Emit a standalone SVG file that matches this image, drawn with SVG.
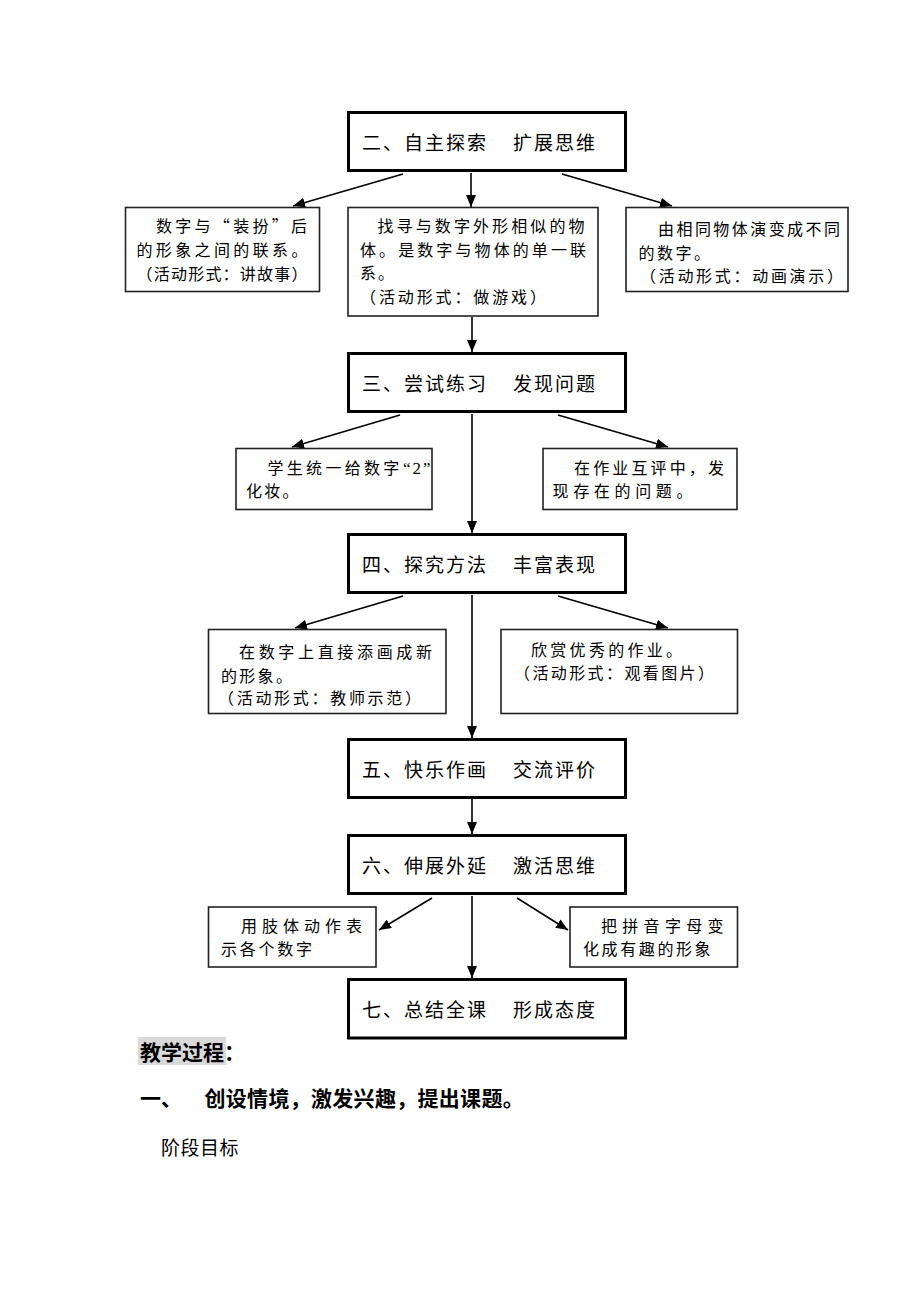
<svg xmlns="http://www.w3.org/2000/svg" width="920" height="1302" viewBox="0 0 920 1302">
<style>
text { font-family: "Noto Sans CJK SC", "Noto Sans CJK TC", sans-serif; fill: #000; }
.main rect { fill: #fff; stroke: #000; stroke-width: 3; }
.sub rect { fill: #fff; stroke: #222; stroke-width: 1.6; }
.h { font-size: 19px; letter-spacing: 2px; }
.s { font-size: 16px; }
.b { font-size: 21px; font-weight: bold; }
.conn line { stroke: #000; stroke-width: 1.6; marker-end: url(#arr); }
</style>
<defs>
<marker id="arr" markerUnits="userSpaceOnUse" markerWidth="12" markerHeight="10" viewBox="0 0 12 10" refX="12" refY="5" orient="auto">
<path d="M0,0 L12,5 L0,10 Z" fill="#000"/>
</marker>
</defs>
<rect width="920" height="1302" fill="#fff"/>

<g id="connectors" class="conn">
<line x1="471" y1="173" x2="471" y2="207"/>
<line x1="403" y1="174" x2="293" y2="206"/>
<line x1="562" y1="174" x2="672" y2="206"/>
<line x1="472" y1="317" x2="472" y2="352"/>
<line x1="400" y1="415" x2="292" y2="447"/>
<line x1="558" y1="415" x2="668" y2="447"/>
<line x1="472" y1="414" x2="472" y2="533"/>
<line x1="403" y1="596" x2="295" y2="628"/>
<line x1="558" y1="596" x2="668" y2="628"/>
<line x1="472" y1="595" x2="472" y2="738"/>
<line x1="472" y1="799" x2="472" y2="834"/>
<line x1="432" y1="898" x2="379" y2="930"/>
<line x1="517" y1="898" x2="568" y2="930"/>
<line x1="472" y1="896" x2="472" y2="978"/>
</g>

<g id="n2" class="main">
<rect x="348.5" y="112.5" width="277" height="58"/>
<text class="h" y="150"><tspan x="362">二、自主探索</tspan><tspan x="513">扩展思维</tspan></text>
</g>
<g id="n2a" class="sub">
<rect x="125.5" y="207.5" width="194" height="84"/>
<text class="s" x="156" y="232" textLength="151" lengthAdjust="spacing">数字与“装扮”后</text>
<text class="s" x="136.5" y="256" textLength="171" lengthAdjust="spacing">的形象之间的联系。</text>
<text class="s" x="136.5" y="280" textLength="171" lengthAdjust="spacing">（活动形式：讲故事）</text>
</g>
<g id="n2b" class="sub">
<rect x="348" y="207.5" width="250" height="108.5"/>
<text class="s" x="377.5" y="232" textLength="207" lengthAdjust="spacing">找寻与数字外形相似的物</text>
<text class="s" x="360" y="256" textLength="226" lengthAdjust="spacing">体。是数字与物体的单一联</text>
<text class="s" x="360" y="279" letter-spacing="2">系。</text>
<text class="s" x="360" y="303" textLength="186" lengthAdjust="spacing">（活动形式：做游戏）</text>
</g>
<g id="n2c" class="sub">
<rect x="626" y="207.5" width="222" height="84"/>
<text class="s" x="658" y="235" textLength="182" lengthAdjust="spacing">由相同物体演变成不同</text>
<text class="s" x="638.5" y="259" letter-spacing="2.5">的数字。</text>
<text class="s" x="640" y="282" textLength="203" lengthAdjust="spacing">（活动形式：动画演示）</text>
</g>

<g id="n3" class="main">
<rect x="348.5" y="353.5" width="277" height="58"/>
<text class="h" y="391"><tspan x="362">三、尝试练习</tspan><tspan x="513">发现问题</tspan></text>
</g>
<g id="n3a" class="sub">
<rect x="236" y="448.5" width="196" height="61"/>
<text class="s" x="267.5" y="474" letter-spacing="3.3">学生统一给数字<tspan x="403" font-family="Liberation Serif, serif" font-size="17" letter-spacing="2">“2”</tspan></text>
<text class="s" x="246" y="497" letter-spacing="2.3">化妆。</text>
</g>
<g id="n3b" class="sub">
<rect x="543" y="448.5" width="194" height="61"/>
<text class="s" x="574" y="474" textLength="150" lengthAdjust="spacing">在作业互评中，发</text>
<text class="s" x="552.5" y="497" textLength="140" lengthAdjust="spacing">现存在的问题。</text>
</g>

<g id="n4" class="main">
<rect x="348.5" y="534.5" width="277" height="58"/>
<text class="h" y="572"><tspan x="362">四、探究方法</tspan><tspan x="513">丰富表现</tspan></text>
</g>
<g id="n4a" class="sub">
<rect x="208.5" y="629.5" width="237.5" height="84"/>
<text class="s" x="239" y="658" textLength="193" lengthAdjust="spacing">在数字上直接添画成新</text>
<text class="s" x="221" y="682" letter-spacing="2.3">的形象。</text>
<text class="s" x="218" y="704" textLength="203" lengthAdjust="spacing">（活动形式：教师示范）</text>
</g>
<g id="n4b" class="sub">
<rect x="501" y="629.5" width="236.5" height="84"/>
<text class="s" x="531" y="656" letter-spacing="3.3">欣赏优秀的作业。</text>
<text class="s" x="514" y="679" textLength="200" lengthAdjust="spacing">（活动形式：观看图片）</text>
</g>

<g id="n5" class="main">
<rect x="348.5" y="739.5" width="277" height="58"/>
<text class="h" y="777"><tspan x="362">五、快乐作画</tspan><tspan x="513">交流评价</tspan></text>
</g>

<g id="n6" class="main">
<rect x="348.5" y="835.5" width="277" height="58"/>
<text class="h" y="873"><tspan x="362">六、伸展外延</tspan><tspan x="513">激活思维</tspan></text>
</g>
<g id="n6a" class="sub">
<rect x="208.5" y="907" width="167.5" height="60"/>
<text class="s" x="241" y="932" letter-spacing="5">用肢体动作表</text>
<text class="s" x="221" y="955" letter-spacing="2.75">示各个数字</text>
</g>
<g id="n6b" class="sub">
<rect x="570" y="907" width="167.5" height="60"/>
<text class="s" x="601" y="932" letter-spacing="5.3">把拼音字母变</text>
<text class="s" x="583" y="955" letter-spacing="2.6">化成有趣的形象</text>
</g>

<g id="n7" class="main">
<rect x="348.5" y="979.5" width="277" height="58.5"/>
<text class="h" y="1017"><tspan x="362">七、总结全课</tspan><tspan x="513">形成态度</tspan></text>
</g>

<g id="body">
<rect x="138" y="1037" width="88" height="28" fill="#d9d9d9"/>
<text class="b" x="140" y="1060">教学过程：</text>
<text class="b" x="140" y="1106">一、</text>
<text class="b" x="204.5" y="1106" letter-spacing="0.3">创设情境，激发兴趣，提出课题。</text>
<text x="161" y="1155" font-size="19" letter-spacing="0.5">阶段目标</text>
</g>
</svg>
